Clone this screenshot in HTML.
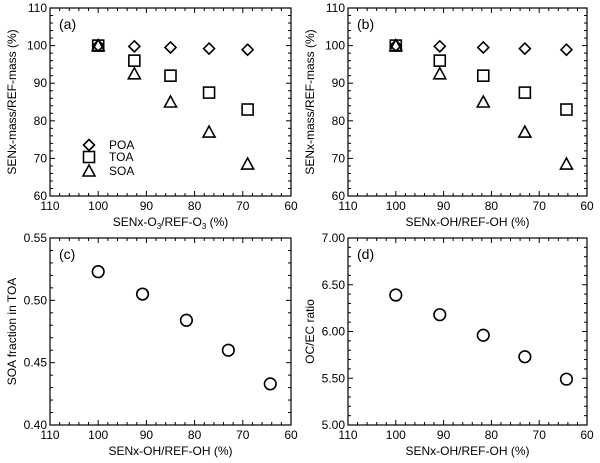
<!DOCTYPE html>
<html><head><meta charset="utf-8"><style>
body{margin:0;background:#fff}
svg{display:block;font-family:"Liberation Sans",Arial,sans-serif}
</style></head><body>
<svg id="fig" width="600" height="463" viewBox="0 0 600 463" xmlns="http://www.w3.org/2000/svg"></svg>
<script>
// Panel data
const xO3 = [100, 92.5, 85, 77, 69];
const xOH = [100, 90.8, 81.7, 73, 64.3];
const poa = [100, 99.8, 99.5, 99.2, 98.9];
const toa = [100, 96, 92, 87.5, 83];
const soa = [100, 92.5, 85, 77, 68.5];
const soaFrac = [0.523, 0.505, 0.484, 0.460, 0.433];
const ocec = [6.39, 6.18, 5.96, 5.73, 5.49];
const xTicks = [110, 100, 90, 80, 70, 60];
const yTicksAB = [60, 70, 80, 90, 100, 110];
const yTicksC = [0.40, 0.45, 0.50, 0.55];
const yTicksD = [5.00, 5.50, 6.00, 6.50, 7.00];

const NS = "http://www.w3.org/2000/svg";
const svg = document.getElementById('fig');
function el(tag, attrs, parent) {
  const e = document.createElementNS(NS, tag);
  for (const k in attrs) e.setAttribute(k, attrs[k]);
  (parent || svg).appendChild(e);
  return e;
}
function txt(s, x, y, anchor, parent, extra) {
  const t = el('text', Object.assign({x: x, y: y, 'text-anchor': anchor, 'font-size': 12, fill: '#000'}, extra || {}), parent);
  t.textContent = s;
  return t;
}
function marker(type, cx, cy, g) {
  let m;
  if (type === 'diamond') m = el('polygon', {points: `${cx},${cy-5.5} ${cx+5.5},${cy} ${cx},${cy+5.5} ${cx-5.5},${cy}`}, g);
  else if (type === 'square') m = el('rect', {x: cx-5.5, y: cy-5.5, width: 11, height: 11}, g);
  else if (type === 'triangle') m = el('polygon', {points: `${cx},${cy-6} ${cx+6},${cy+5} ${cx-6},${cy+5}`}, g);
  else m = el('circle', {cx: cx, cy: cy, r: 5.8}, g);
  m.setAttribute('fill', 'none'); m.setAttribute('stroke', '#000'); m.setAttribute('stroke-width', 1.6);
  
  
  return m;
}
function panel(o) {
  const g = el('g', {});
  
  
  const X = v => o.L + (110 - v) / 50 * (o.R - o.L);
  const Y = v => o.B - (v - o.ymin) / (o.ymax - o.ymin) * (o.B - o.T);
  const f = el('rect', {x: o.L, y: o.T, width: o.R - o.L, height: o.B - o.T, fill: 'none', stroke: '#000', 'stroke-width': 1.2}, g);
   
  for (let v = 110; v >= 60; v -= 2) {
    const major = v % 10 === 0, len = major ? 5 : 3, x = X(v);
    el('line', {x1: x, y1: o.B, x2: x, y2: o.B - len, stroke: '#000'}, g);
    el('line', {x1: x, y1: o.T, x2: x, y2: o.T + len, stroke: '#000'}, g);
  }
  xTicks.forEach(v => {
    const t = txt(String(v), X(v), o.B + 14, 'middle', g);
     
  });
  const nMinor = Math.round((o.ymax - o.ymin) / o.minor);
  for (let i = 0; i <= nMinor; i++) {
    const v = o.ymin + i * o.minor;
    const major = Math.abs(((v - o.ymin) / o.major) - Math.round((v - o.ymin) / o.major)) < 1e-6;
    const len = major ? 5 : 3, y = Y(v);
    el('line', {x1: o.L, y1: y, x2: o.L + len, y2: y, stroke: '#000'}, g);
    el('line', {x1: o.R, y1: y, x2: o.R - len, y2: y, stroke: '#000'}, g);
  }
  o.yTicks.forEach(v => {
    const t = txt(v.toFixed(o.dec), o.L - 3, Y(v) + 4, 'end', g);
     
  });
  const xt = el('text', {x: (o.L + o.R) / 2, y: o.B + 30, 'text-anchor': 'middle', 'font-size': 12}, g);
  xt.innerHTML = o.xTitle;
   
  const cy = (o.T + o.B) / 2, yx = o.L - 38;
  const yt = txt(o.yTitle, yx, cy + 4, 'middle', g, {transform: `rotate(-90 ${yx} ${cy})`});
   
  const pl = txt('(' + o.label + ')', o.L + 9, o.T + 21, 'start', g, {'font-size': 14});
   
  o.series.forEach(s => {
    s.ys.forEach((v, i) => marker(s.type, X(o.xs[i]), Y(v), g));
  });
  return g;
}
const yTitleAB = 'SENx-mass/REF-mass (%)';
panel({label: 'a', L: 50, R: 291, T: 8, B: 196, ymin: 60, ymax: 110, major: 10, minor: 2, dec: 0, yTicks: yTicksAB, xs: xO3,
  xTitle: 'SENx-O<tspan font-size="8" dy="3">3</tspan><tspan dy="-3">/REF-O</tspan><tspan font-size="8" dy="3">3</tspan><tspan dy="-3"> (%)</tspan>',
  yTitle: yTitleAB,
  series: [{type: 'diamond', ys: poa}, {type: 'square', ys: toa}, {type: 'triangle', ys: soa}]});
panel({label: 'b', L: 348, R: 587, T: 8, B: 196, ymin: 60, ymax: 110, major: 10, minor: 2, dec: 0, yTicks: yTicksAB, xs: xOH,
  xTitle: 'SENx-OH/REF-OH (%)', yTitle: yTitleAB,
  series: [{type: 'diamond', ys: poa}, {type: 'square', ys: toa}, {type: 'triangle', ys: soa}]});
panel({label: 'c', L: 50, R: 291, T: 238, B: 425, ymin: 0.40, ymax: 0.55, major: 0.05, minor: 0.01, dec: 2, yTicks: yTicksC, xs: xOH,
  xTitle: 'SENx-OH/REF-OH (%)', yTitle: 'SOA fraction in TOA',
  series: [{type: 'circle', ys: soaFrac}]});
panel({label: 'd', L: 348, R: 587, T: 238, B: 425, ymin: 5.0, ymax: 7.0, major: 0.5, minor: 0.1, dec: 2, yTicks: yTicksD, xs: xOH,
  xTitle: 'SENx-OH/REF-OH (%)', yTitle: 'OC/EC ratio',
  series: [{type: 'circle', ys: ocec}]});
const lg = el('g', {});


[['diamond', 'POA', 145], ['square', 'TOA', 157], ['triangle', 'SOA', 171]].forEach(([t, n, y]) => {
  marker(t, 89, y, lg);
  const e = txt(n, 109, y + 4, 'start', lg);
  
  
});
</script>
</body></html>
